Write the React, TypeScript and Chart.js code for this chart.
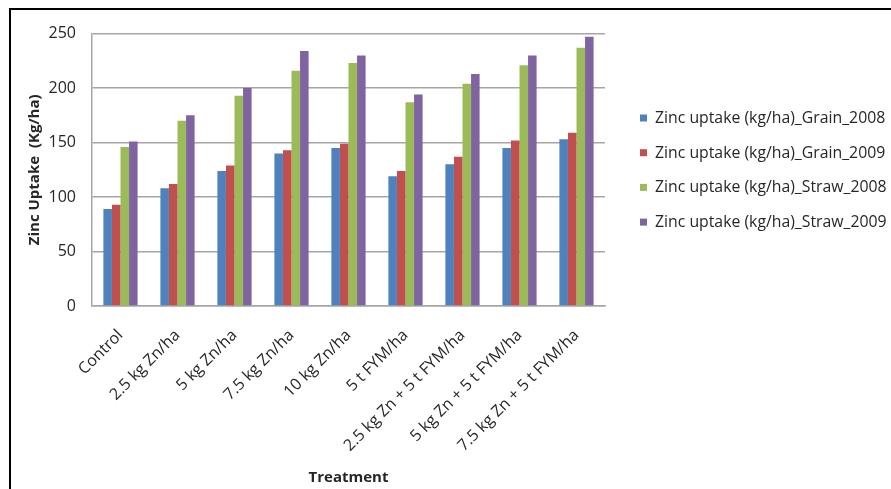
import React, { useEffect, useRef } from "react";
import { Chart, registerables } from "chart.js";

Chart.register(...registerables);

const categories = [
  "Control",
  "2.5 kg Zn/ha",
  "5 kg Zn/ha",
  "7.5 kg Zn/ha",
  "10 kg Zn/ha",
  "5 t FYM/ha",
  "2.5 kg Zn + 5 t FYM/ha",
  "5 kg Zn + 5 t FYM/ha",
  "7.5 kg Zn + 5 t FYM/ha",
];

const grain2008 = [89, 108, 124, 140, 145, 119, 130, 145, 153];
const grain2009 = [93, 112, 129, 143, 149, 124, 137, 152, 159];
const straw2008 = [146, 170, 193, 216, 223, 187, 204, 221, 237];
const straw2009 = [151, 175, 200, 234, 230, 194, 213, 230, 247];

const seriesNames = [
  "Zinc uptake (kg/ha)_Grain_2008",
  "Zinc uptake (kg/ha)_Grain_2009",
  "Zinc uptake (kg/ha)_Straw_2008",
  "Zinc uptake (kg/ha)_Straw_2009",
];
const seriesColors = ["#4F81BD", "#C0504D", "#9BBB59", "#8064A2"];

const yTicks = [0, 50, 100, 150, 200, 250];

const FONT = "'Open Sans', 'Noto Sans', sans-serif";

const framePlugin = {
  id: "frame",
  afterDraw(chart: any) {
    const ctx = chart.ctx;
    ctx.save();
    ctx.fillStyle = "#000";
    ctx.fillRect(1, 0, chart.width - 1, 2);
    ctx.fillRect(1, 0, 2, chart.height);
    ctx.restore();
  },
};

const legendPlugin = {
  id: "sideLegend",
  afterDraw(chart: any) {
    const ctx = chart.ctx;
    const ds = chart.data.datasets;
    ctx.save();
    ctx.font = `15.8px ${FONT}`;
    ctx.textBaseline = "middle";
    ctx.textAlign = "left";
    const x0 = 632;
    const y0 = 110;
    const step = 34.7;
    ds.forEach((d: any, i: number) => {
      const y = y0 + i * step;
      ctx.fillStyle = d.backgroundColor;
      ctx.fillRect(x0, y - 3.5, 7, 7);
      ctx.fillStyle = "#262626";
      ctx.fillText(d.label, x0 + 15, y + 0.5);
    });
    ctx.restore();
  },
};

export default function App() {
  const ref = useRef<HTMLCanvasElement | null>(null);

  useEffect(() => {
    if (!ref.current) return;
    const datasets = [grain2008, grain2009, straw2008, straw2009].map((vals, i) => ({
      label: seriesNames[i],
      data: vals,
      backgroundColor: seriesColors[i],
      borderWidth: 0,
      barPercentage: 1,
      categoryPercentage: 0.6,
    }));
    const chart = new Chart(ref.current, {
      type: "bar",
      data: { labels: categories, datasets },
      options: {
        animation: false,
        responsive: false,
        maintainAspectRatio: false,
        layout: { padding: { top: 19, right: 286, bottom: 0, left: 0 } },
        plugins: {
          legend: { display: false },
          tooltip: { enabled: false },
        },
        scales: {
          x: {
            grid: { display: false },
            border: { display: true, color: "#A6A6A6", width: 1.5 },
            ticks: {
              minRotation: 45,
              maxRotation: 45,
              autoSkip: false,
              padding: 12,
              color: "#262626",
              font: { family: FONT, size: 16 },
            },
            title: {
              display: true,
              text: "Treatment",
              color: "#262626",
              font: { family: FONT, size: 15, weight: "bold" },
              padding: { top: 0, bottom: 2 },
            },
            afterFit: (s: any) => {
              s.height = 183;
            },
          },
          y: {
            min: 0,
            max: 250,
            afterBuildTicks: (s: any) => {
              s.ticks = yTicks.map((v) => ({ value: v }));
            },
            grid: { color: "#A6A6A6", lineWidth: 1.5, drawTicks: false },
            border: { display: true, color: "#A6A6A6", width: 1.5 },
            ticks: {
              padding: 16,
              color: "#262626",
              font: { family: FONT, size: 16 },
            },
            title: {
              display: true,
              text: "Zinc Uptake  (Kg/ha)",
              color: "#262626",
              font: { family: FONT, size: 15, weight: "bold" },
              padding: { top: 18, bottom: 0 },
            },
            afterFit: (s: any) => {
              s.width = 84;
            },
          },
        },
      },
      plugins: [framePlugin, legendPlugin],
    });
    return () => chart.destroy();
  }, []);

  return (
    <div style={{ position: "fixed", left: 8, top: 8, width: 883, height: 481 }}>
      <canvas ref={ref} width={883} height={481} style={{ display: "block" }} />
    </div>
  );
}
